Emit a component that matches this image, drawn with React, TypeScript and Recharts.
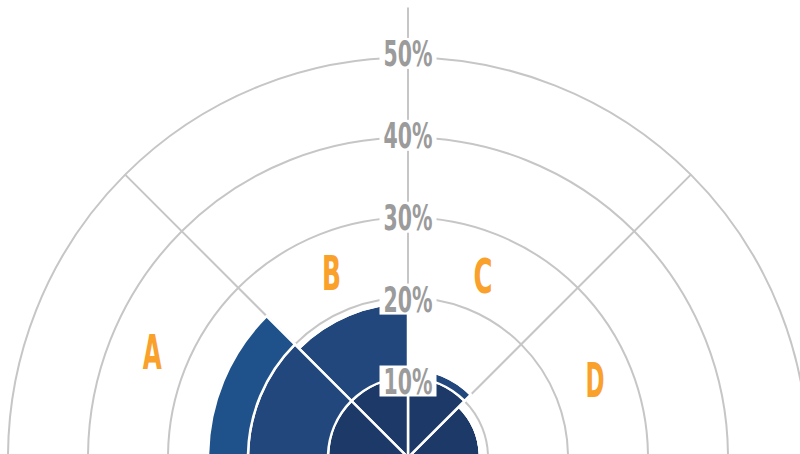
import React from 'react';
import { RadialBarChart, RadialBar, PolarGrid, PolarAngleAxis, PolarRadiusAxis } from 'recharts';

const categories = ['A', 'B', 'C', 'D'];
const innerBand = [10, 10, 10, 9];
const middleBand = [10, 9.3, 1.1, 0];
const outerBand = [5, 0, 0, 0];
const radiusTicks = [10, 20, 30, 40, 50];
const tickLabels = ['10%', '20%', '30%', '40%', '50%'];
const labelRadius = [34.6, 25, 24.5, 25.3];

// drawn counter-clockwise from the right, so the list runs D..A
const data = categories
  .map((name, i) => ({
    name,
    inner: innerBand[i],
    middle: middleBand[i],
    outer: outerBand[i],
  }))
  .reverse();

const W = 800;
const H = 454;
const CX = 408;
const CY = 457.5;
const OUTER = 400;
const MAX = 50;
const GRID = '#c6c6c6';
const FONT = "'Liberation Sans Narrow', 'DejaVu Sans Condensed', 'Roboto', sans-serif";
const BAND = 180 / categories.length;

const RadiusTick = (props: any) => {
  const { x, y, payload } = props;
  const idx = radiusTicks.indexOf(payload.value);
  const label = idx >= 0 ? tickLabels[idx] : `${payload.value}%`;
  const cyy = y + 5.4 - 0.19 * payload.value;
  return (
    <g>
      <rect x={x - 28.5} y={cyy - 15.5} width={57} height={31} fill="#ffffff" />
      <text
        x={x}
        y={cyy}
        textAnchor="middle"
        dominantBaseline="central"
        fontFamily={FONT}
        fontSize={36}
        fontWeight="bold"
        fill="#9b9b9b"
        textLength={49}
        lengthAdjust="spacingAndGlyphs"
      >
        {label}
      </text>
    </g>
  );
};

const CategoryTick = (props: any) => {
  const { payload } = props;
  const idx = categories.indexOf(payload.value);
  // centre of the category's band (A leftmost)
  const angle = 180 - BAND * (idx + 0.5);
  const rr = (labelRadius[idx] / MAX) * OUTER;
  const rad = (angle * Math.PI) / 180;
  const px = CX + rr * Math.cos(rad);
  const py = CY - rr * Math.sin(rad);
  return (
    <text
      x={px}
      y={py}
      textAnchor="middle"
      dominantBaseline="central"
      fontFamily={FONT}
      fontSize={48}
      fontWeight="bold"
      fill="#f9a12b"
      textLength={19}
      lengthAdjust="spacingAndGlyphs"
    >
      {payload.value}
    </text>
  );
};

export default function App() {
  return (
    <div style={{ position: 'absolute', left: 0, top: 0, width: W, height: H, background: '#fff' }}>
      <div style={{ position: 'absolute', left: 0, top: 0 }}>
        <RadialBarChart
          width={W}
          height={H}
          cx={CX}
          cy={CY}
          innerRadius={0}
          outerRadius={450}
          startAngle={0}
          endAngle={180}
          data={data}
          layout="centric"
          margin={{ top: 0, right: 0, bottom: 0, left: 0 }}
        >
          <PolarGrid polarAngles={[90]} polarRadius={[]} gridType="circle" stroke={GRID} strokeWidth={2} />
        </RadialBarChart>
      </div>
      <div style={{ position: 'absolute', left: 0, top: 0 }}>
        <RadialBarChart
          width={W}
          height={H}
          cx={CX}
          cy={CY}
          innerRadius={0}
          outerRadius={OUTER}
          startAngle={BAND}
          endAngle={180 + BAND}
          data={data}
          layout="centric"
          barCategoryGap={0}
          barGap={0}
          margin={{ top: 0, right: 0, bottom: 0, left: 0 }}
        >
          <PolarGrid polarAngles={[0, 45, 90, 135, 180]} gridType="circle" stroke={GRID} strokeWidth={2} />
          <PolarAngleAxis type="category" dataKey="name" axisLine={false} tickLine={false} tick={<CategoryTick />} />
          <PolarRadiusAxis
            type="number"
            domain={[0, MAX]}
            ticks={radiusTicks}
            angle={90}
            axisLine={false}
            tickLine={false}
            tick={<RadiusTick />}
          />
          <RadialBar dataKey="inner" stackId="s" fill="#1c3968" stroke="#ffffff" strokeWidth={2.5} isAnimationActive={false} />
          <RadialBar dataKey="middle" stackId="s" fill="#21477c" stroke="#ffffff" strokeWidth={2.5} isAnimationActive={false} />
          <RadialBar dataKey="outer" stackId="s" fill="#1f528a" stroke="#ffffff" strokeWidth={2.5} isAnimationActive={false} />
        </RadialBarChart>
      </div>
    </div>
  );
}
